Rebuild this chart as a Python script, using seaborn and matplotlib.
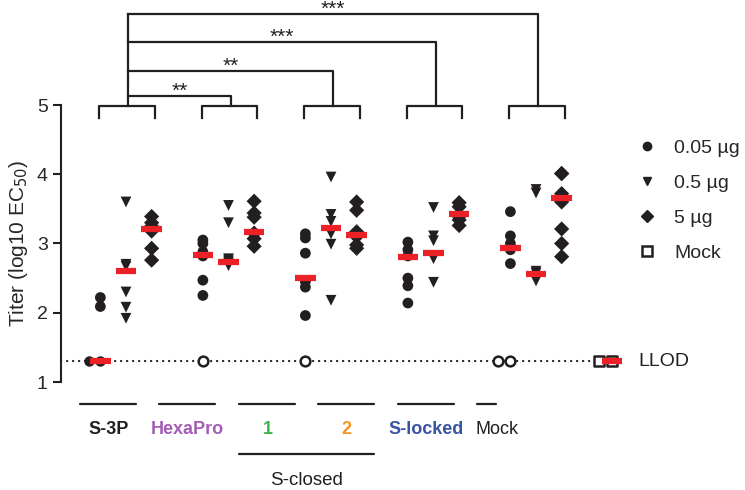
import numpy as np
import pandas as pd
import seaborn as sns
import matplotlib.pyplot as plt
from matplotlib.lines import Line2D

# --------------------------- SETTINGS ---------------------------
sns.set_style("ticks")
plt.rcParams['font.family'] = ['Liberation Sans', 'DejaVu Sans']

# --------------------------- DATA ---------------------------
groups = ['S-3P', 'HexaPro', '1', '2', 'S-locked']
group_colors = ['#231f20', '#a35db5', '#3bb44a', '#f7941d', '#3953a4']
doses = ['0.05 µg', '0.5 µg', '5 µg']
dose_markers = ['o', 'v', 'D']
LLOD = 1.3

# log10 EC50 per mouse, one list per group
titer_low = [
    [2.22, 2.09, 1.3, 1.3],
    [3.05, 3.00, 2.88, 2.82, 2.47, 2.25],
    [3.14, 3.08, 2.86, 2.45, 2.37, 1.96],
    [3.02, 2.91, 2.82, 2.50, 2.39, 2.14],
    [3.46, 3.11, 3.00, 2.91, 2.71],
]
titer_mid = [
    [3.60, 2.70, 2.67, 2.30, 2.08, 1.92],
    [3.55, 3.30, 2.78, 2.75, 2.72, 2.68],
    [3.96, 3.42, 3.32, 3.14, 2.99, 2.18],
    [3.52, 3.11, 3.04, 2.78, 2.44],
    [3.78, 3.73, 2.60, 2.57, 2.52, 2.46],
]
titer_high = [
    [3.39, 3.30, 3.25, 3.18, 2.93, 2.76],
    [3.61, 3.44, 3.38, 3.15, 3.07, 2.96],
    [3.60, 3.48, 3.17, 3.10, 2.98, 2.93],
    [3.59, 3.53, 3.42, 3.39, 3.34, 3.26],
    [4.01, 4.01, 3.72, 3.60, 3.21, 3.00, 2.81],
]
# 0.05 µg mice below LLOD, drawn as open circles
open_low = [0, 1, 1, 0, 2]
mock_titer = [1.3, 1.3]

# red bars (group summary)
bar_low = [1.30, 2.83, 2.50, 2.81, 2.94]
bar_mid = [2.61, 2.74, 3.23, 2.86, 2.56]
bar_high = [3.21, 3.16, 3.12, 3.42, 3.65]
bar_mock = 1.30

# comparisons vs S-3P
comp_target = [1, 2, 3, 4]
comp_stars = ['**', '**', '***', '***']
comp_level = [5.13, 5.49, 5.91, 6.31]

# --------------------------- LAYOUT ---------------------------
group_pos = np.arange(len(groups))
dose_offset = [-0.25, 0.0, 0.25]
mock_pos = 4.74
label_pos = [-0.17, 0.60, 1.38, 2.15, 2.93]
mock_label_pos = 3.52

rows = []
for gi in range(len(groups)):
    for di, vals in enumerate([titer_low, titer_mid, titer_high]):
        for v in vals[gi]:
            rows.append({'x': group_pos[gi] + dose_offset[di], 'titer': v, 'dose': doses[di]})
df = pd.DataFrame(rows)
df_main = df[df['titer'] > LLOD]
df_llod = df[df['titer'] <= LLOD]

open_rows = []
for gi, n in enumerate(open_low):
    for _ in range(n):
        open_rows.append({'x': group_pos[gi] + dose_offset[0], 'titer': LLOD})
df_open = pd.DataFrame(open_rows)
df_mock = pd.DataFrame({'x': [mock_pos] * len(mock_titer), 'titer': mock_titer})

fig = plt.figure(figsize=(7.45, 4.9), dpi=100)
ax = fig.add_axes([61 / 745, 1 - 382 / 490, 564 / 745, 277 / 490])

# LLOD dotted line
ax.plot([-0.634, mock_pos], [LLOD, LLOD], color='#231f20', lw=1.6,
        linestyle=(0, (0.1, 2.6)), dash_capstyle='round', zorder=1)

sns.scatterplot(data=df_main, x='x', y='titer', style='dose', markers=dict(zip(doses, dose_markers)),
                color='#231f20', s=60, linewidth=0, legend=False, ax=ax, zorder=3)

sns.swarmplot(data=df_llod, x='x', y='titer', native_scale=True, orient='x',
              marker='o', color='#231f20', size=7.5, linewidth=0, ax=ax, zorder=3)
sns.swarmplot(data=df_open, x='x', y='titer', native_scale=True, orient='x',
              marker='o', color='white', edgecolor='#231f20', size=7,
              linewidth=1.8, ax=ax, zorder=3)
sns.swarmplot(data=df_mock, x='x', y='titer', native_scale=True, orient='x',
              marker='s', color='white', edgecolor='#231f20', size=7,
              linewidth=1.8, ax=ax, zorder=3)

# red summary bars
for di, bars in enumerate([bar_low, bar_mid, bar_high]):
    xs = group_pos + dose_offset[di]
    ax.hlines(bars, xs - 0.1, xs + 0.1, color='#ec2027', lw=4.5, zorder=5)
ax.hlines(bar_mock, mock_pos - 0.1, mock_pos + 0.1, color='#ec2027', lw=4.5, zorder=5)

ax.set_xlim(-0.634, 4.868)
ax.set_ylim(1, 5)
ax.set_yticks([1, 2, 3, 4, 5])
ax.set_xticks([])
ax.set_xlabel('')
ax.set_ylabel('Titer (log10 EC$_{50}$)', fontsize=15, labelpad=5)
ax.tick_params(axis='y', labelsize=14, width=1.5, length=6, color='#231f20')
sns.despine(ax=ax, bottom=True)
ax.spines['left'].set_linewidth(1.5)
ax.spines['left'].set_color('#231f20')

ax.text(5.0, LLOD, 'LLOD', fontsize=14, va='center', ha='left', color='#231f20')

# significance brackets on top
lk = dict(color='#231f20', lw=1.6, clip_on=False, solid_capstyle='projecting')
for gi in group_pos:
    ax.plot([gi - 0.26, gi - 0.26, gi + 0.28, gi + 0.28], [4.81, 4.98, 4.98, 4.81], **lk)
ax.plot([0.02, 0.02], [4.98, max(comp_level)], **lk)
for t, lev, s in zip(comp_target, comp_level, comp_stars):
    ax.plot([0.02, t + 0.02, t + 0.02], [lev, lev, 4.98], **lk)
    ax.text((0.02 + t + 0.02) / 2, lev + 0.07, s, ha='center', va='center',
            fontsize=15, color='#231f20')

# group labels under the axis
tr = ax.get_xaxis_transform()
bk = dict(color='#231f20', lw=1.6, clip_on=False, transform=tr)
for gi, g in enumerate(groups):
    ax.plot([label_pos[gi] - 0.28, label_pos[gi] + 0.27], [-0.079, -0.079], **bk)
    ax.text(label_pos[gi], -0.17, g, transform=tr, ha='center', va='center',
            fontsize=13, fontweight='bold', color=group_colors[gi])
ax.plot([mock_label_pos - 0.1, mock_label_pos + 0.09], [-0.079, -0.079], **bk)
ax.text(mock_label_pos + 0.1, -0.17, 'Mock', transform=tr, ha='center', va='center',
        fontsize=13, color='#231f20')
ax.plot([label_pos[2] - 0.28, label_pos[3] + 0.27], [-0.26, -0.26], **bk)
ax.text((label_pos[2] + label_pos[3]) / 2, -0.354, 'S-closed', transform=tr,
        ha='center', va='center', fontsize=13.5, color='#231f20')

# legend
handles = [Line2D([], [], marker=m, color='#231f20', linestyle='', markersize=6)
           for m in dose_markers]
handles.append(Line2D([], [], marker='s', color='#231f20', markerfacecolor='white',
                      markeredgewidth=1.8, linestyle='', markersize=6.5))
fig.legend(handles, doses + ['Mock'], loc='upper left', bbox_to_anchor=(0.832, 0.752),
           frameon=False, fontsize=14, handletextpad=0.9, labelspacing=0.9,
           handlelength=1.0)

fig.savefig('out.png', dpi=100)
